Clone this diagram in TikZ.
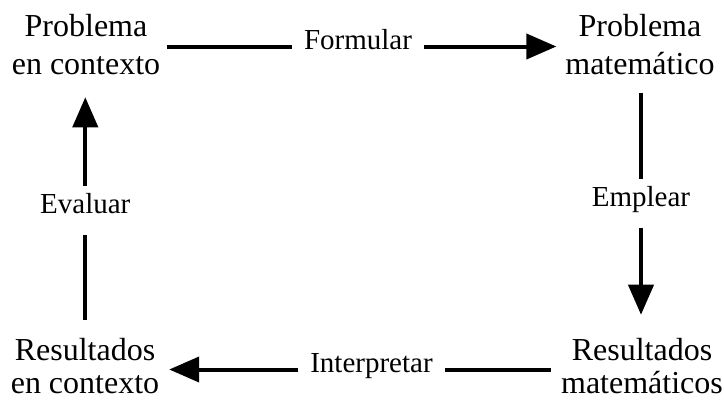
\documentclass[tikz,border=0pt]{standalone}
\usepackage{fontspec}
\setmainfont{Liberation Serif}
\usetikzlibrary{arrows.meta}
\begin{document}
\begin{tikzpicture}[x=1pt,y=-1pt,
  box/.style={align=center, inner sep=0pt, outer sep=0pt, font=\fontsize{32}{38}\selectfont},
  boxlow/.style={box, font=\fontsize{32}{33}\selectfont},
  lab/.style={inner sep=0pt, outer xsep=12pt, outer ysep=21pt, text height=0.68em, text depth=0pt, font=\fontsize{29}{34}\selectfont},
  conn/.style={line width=4pt},
  tip/.style={-{Triangle[length=30pt,width=25pt]}}]
\useasboundingbox (0,0) rectangle (724,400);
\node[box] (PC) at (86,45) {Problema\\en contexto};
\node[box] (PM) at (640,45) {Problema\\matemático};
\node[boxlow] (RC) at (85,366.5) {Resultados\\en contexto};
\node[boxlow] (RM) at (642,366.5) {Resultados\\matemáticos};
\node[lab] (F) at (358,46.5) {Formular};
\node[lab] (E) at (641,203.5) {Emplear};
\node[lab] (I) at (371.5,369.5) {Interpretar};
\node[lab] (V) at (85.3,210.5) {Evaluar};
\draw[conn, shorten <=7pt] (PC.east |- F) -- (F.west);
\draw[conn, tip, shorten >=9pt] (F.east) -- (PM.west |- F);
\draw[conn, shorten <=18pt] (PM.south -| E) -- (E.north);
\draw[conn, tip, shorten >=24pt] (E.south) -- (RM.north -| E);
\draw[conn, shorten <=10pt] (RM.west |- I) -- (I.east);
\draw[conn, tip, shorten >=10pt] (I.west) -- (RC.east |- I);
\draw[conn, shorten <=19pt] (RC.north -| V) -- (V.south);
\draw[conn, tip, shorten >=22pt] (V.north) -- (PC.south -| V);
\end{tikzpicture}
\end{document}
